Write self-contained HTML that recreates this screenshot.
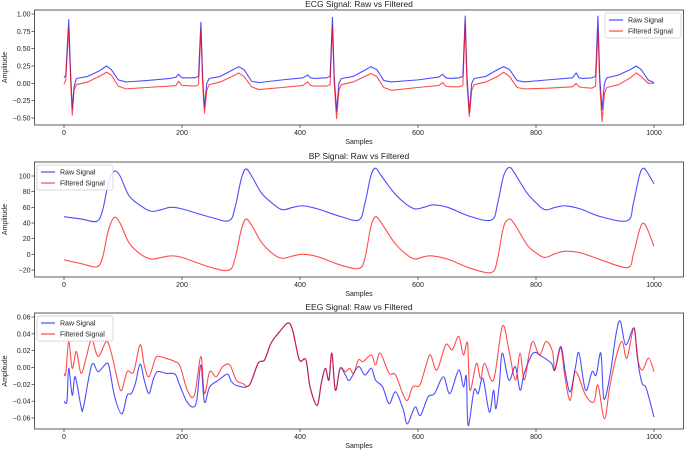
<!DOCTYPE html>
<html><head><meta charset="utf-8"><style>
body{margin:0;background:#fff;}
svg{display:block;font-family:"Liberation Sans",sans-serif;}
</style></head><body>
<svg id="fig" width="685" height="452" viewBox="0 0 685 452"></svg>
<script>
const xTicks=[0,200,400,600,800,1000];
const ecgX=[0,3,8,11,14,17,21,40,60,72,80,92,105,140,180,190,194,200,222,228,
232,235,238,242,246,265,285,296,305,318,330,370,405,413,418,425,445,451,
455,458,462,466,470,490,510,520,530,542,555,600,635,642,647,655,670,676,
680,683,687,691,695,715,735,745,755,768,780,820,862,868,873,880,895,901,
905,908,912,916,920,940,960,970,978,990,1000];
const ecgRaw=[0.08,0.12,0.92,0.2,-0.37,-0.05,0.07,0.1,0.18,0.25,0.2,0.05,0.02,0.04,0.07,0.09,0.13,0.08,0.08,0.1,
0.88,0.1,-0.35,0.0,0.07,0.1,0.19,0.24,0.2,0.03,0.01,0.05,0.08,0.12,0.08,0.07,0.08,0.1,
0.95,0.1,-0.4,0.0,0.07,0.1,0.19,0.24,0.2,0.04,0.02,0.05,0.09,0.13,0.08,0.07,0.08,0.1,
0.97,0.1,-0.42,0.0,0.07,0.1,0.2,0.24,0.2,0.04,0.02,0.05,0.08,0.15,0.08,0.07,0.08,0.1,
0.97,0.1,-0.38,0.0,0.08,0.12,0.2,0.25,0.2,0.05,0.01];
const ecgFilt=[-0.01,0.05,0.8,0.1,-0.46,-0.1,-0.02,0.02,0.1,0.16,0.12,-0.04,-0.08,-0.06,-0.04,-0.03,0.03,-0.03,-0.04,-0.02,
0.78,0.0,-0.43,-0.1,-0.02,0.02,0.1,0.15,0.1,-0.05,-0.09,-0.06,-0.03,0.02,-0.03,-0.04,-0.04,-0.02,
0.83,0.0,-0.51,-0.1,-0.02,0.02,0.1,0.14,0.1,-0.06,-0.1,-0.06,-0.03,0.01,-0.04,-0.05,-0.05,-0.03,
0.87,0.0,-0.48,-0.1,-0.02,0.02,0.1,0.16,0.1,-0.06,-0.08,-0.07,-0.05,0.0,-0.05,-0.06,-0.07,-0.04,
0.78,0.0,-0.55,-0.15,-0.06,-0.02,0.08,0.15,0.1,0.0,0.0];
const ecgYTicks=[1.0,0.75,0.5,0.25,0.0,-0.25,-0.5];
const bpX=[0,30,55,65,75,85,95,110,130,148,165,180,200,250,280,290,300,308,318,335,355,370,388,405,430,470,500,510,520,528,538,560,580,595,610,625,650,690,725,735,745,755,765,785,800,815,833,850,875,910,955,965,975,982,990,1000];
const bpRaw=[48,45,42,55,90,106,100,75,62,55,57,60,58,47,43,60,95,109,100,78,64,57,60,62,58,48,44,65,100,110,100,78,64,58,60,63,60,48,44,65,100,111,102,78,66,57,60,62,58,48,43,65,100,110,103,90];
const bpFilt=[-7,-12,-16,-5,30,47,40,15,0,-6,-4,-2,-4,-17,-20,-5,30,45,37,15,0,-5,-2,0,-3,-14,-18,-5,35,48,40,15,0,-6,-3,-2,-6,-18,-23,-5,35,45,37,12,2,-4,1,4,2,-7,-17,0,30,40,30,10];
const bpYTicks=[100,80,60,40,20,0,-20];
const eegRawX=[0,5,8,14,19,29,33,47,58,72,77,86,98,107,114,121,129,136,144,151,158,173,188,195,207,218,225,232,238,247,262,277,284,295,314,329,340,351,366,380,388,399,410,417,429,436,443,449,454,460,468,477,484,499,510,521,528,540,551,562,575,582,595,604,617,628,643,654,669,677,682,685,695,702,710,721,728,732,738,743,754,765,773,780,795,810,826,832,842,850,858,867,873,884,895,902,910,915,925,936,943,952,965,969,974,980,987,1000];
const eegRaw=[-0.04,-0.04,-0.001,-0.033,-0.011,-0.047,-0.047,0.003,-0.005,0.005,-0.001,-0.035,-0.055,-0.033,-0.031,-0.019,0.004,-0.015,-0.031,-0.015,-0.005,-0.007,-0.008,-0.019,-0.039,-0.047,-0.039,0.003,-0.041,-0.023,-0.015,-0.008,-0.017,-0.022,-0.021,0.005,0.009,0.029,0.043,0.053,0.043,0.009,0.009,-0.023,-0.045,-0.019,-0.001,-0.015,0.017,-0.027,-0.001,-0.009,-0.015,0.001,-0.009,-0.001,-0.015,-0.023,-0.043,-0.029,-0.05,-0.067,-0.047,-0.057,-0.035,-0.031,-0.011,-0.031,-0.003,-0.023,-0.011,-0.069,-0.027,-0.031,-0.013,-0.053,-0.027,-0.049,-0.019,0.017,-0.015,0.001,-0.027,-0.007,0.017,0.013,0.005,-0.003,0.025,-0.007,-0.029,0.001,0.017,-0.027,-0.005,-0.009,0.017,-0.037,-0.011,0.041,0.055,0.027,0.047,0.033,0.001,-0.019,-0.025,-0.059];
const eegFiltX=[0,3,8,14,21,29,38,47,58,72,81,92,98,107,118,129,136,144,155,162,177,188,197,209,221,232,238,247,258,269,281,292,303,314,329,340,351,366,380,388,399,410,417,429,436,443,449,454,460,468,477,484,491,499,507,521,528,536,551,562,580,591,603,613,621,632,647,658,669,677,684,688,699,706,713,728,743,754,765,773,780,788,795,806,817,828,832,842,849,858,867,884,898,905,916,925,936,946,954,966,972,980,991,1000];
const eegFilt=[-0.007,-0.007,0.031,-0.001,0.019,-0.007,0.013,0.033,0.013,0.031,0.015,-0.019,-0.027,-0.005,-0.005,0.027,0.003,-0.011,0.011,0.013,0.01,0.007,0.001,-0.027,-0.033,0.013,-0.031,-0.005,-0.011,0.001,0.003,-0.015,-0.019,-0.021,0.005,0.009,0.029,0.043,0.053,0.043,0.009,0.009,-0.023,-0.045,-0.019,-0.001,-0.015,0.017,-0.027,-0.001,-0.005,-0.001,-0.007,0.009,0.007,0.015,0.003,0.017,-0.007,-0.009,-0.039,-0.023,-0.021,0.001,0.015,-0.003,0.027,0.021,0.037,0.015,0.029,-0.027,0.005,-0.013,0.005,-0.015,0.049,0.021,-0.015,0.017,-0.015,0.015,0.031,0.015,0.031,0.019,-0.003,0.023,-0.011,-0.039,-0.005,-0.033,-0.041,-0.021,-0.061,-0.023,0.013,0.031,0.011,0.047,0.011,-0.003,0.011,-0.005];
const eegYTicks=[0.06,0.04,0.02,0.0,-0.02,-0.04,-0.06];

const NS="http://www.w3.org/2000/svg";
const svg=document.getElementById('fig');
function mk(tag,attrs,parent){const e=document.createElementNS(NS,tag);for(const k in attrs)e.setAttribute(k,attrs[k]);(parent||svg).appendChild(e);return e;}
const L=34.5,R=683.5;
function xs(v){return 64+(v-0)*(654-64)/1000;}
function smoothPath(pts){let d='M'+pts[0][0].toFixed(2)+','+pts[0][1].toFixed(2);
 for(let i=0;i<pts.length-1;i++){const p0=pts[i-1]||pts[i],p1=pts[i],p2=pts[i+1],p3=pts[i+2]||p2;
  const c1x=p1[0]+(p2[0]-p0[0])/6,c1y=p1[1]+(p2[1]-p0[1])/6,c2x=p2[0]-(p3[0]-p1[0])/6,c2y=p2[1]-(p3[1]-p1[1])/6;
  d+=' C'+c1x.toFixed(2)+','+c1y.toFixed(2)+' '+c2x.toFixed(2)+','+c2y.toFixed(2)+' '+p2[0].toFixed(2)+','+p2[1].toFixed(2);}
 return d;}
function panel(o){
 const g=mk('g',{});
 
 
 const ys=v=>o.y0+(v-o.v0)*(o.y1-o.y0)/(o.v1-o.v0);
 const t=mk('text',{x:(L+R)/2,y:o.top-3,'text-anchor':'middle','font-size':8.5,fill:'#222'},g);t.textContent=o.title;
 
 xTicks.forEach(v=>{const x=xs(v);mk('line',{x1:x,x2:x,y1:o.bot,y2:o.bot+3,stroke:'#333','stroke-width':0.7},g);
  const tt=mk('text',{x:x,y:o.bot+10,'text-anchor':'middle','font-size':7,fill:'#222'},g);tt.textContent=v;
  });
 o.yt.forEach(v=>{const y=ys(v);mk('line',{x1:L-3,x2:L,y1:y,y2:y,stroke:'#333','stroke-width':0.7},g);
  const tt=mk('text',{x:L-4,y:y+2.5,'text-anchor':'end','font-size':7,fill:'#222'},g);
  tt.textContent=o.fmt(v).replace('-','\u2212');
  });
 const xl=mk('text',{x:(L+R)/2,y:o.bot+19,'text-anchor':'middle','font-size':7,fill:'#222'},g);xl.textContent='Samples';
 
 const yl=mk('text',{x:0,y:0,'text-anchor':'middle','font-size':7,fill:'#222',transform:`translate(7,${(o.top+o.bot)/2}) rotate(-90)`},g);yl.textContent='Amplitude';
 
 const series=[[o.rx,o.raw,'#0000ff','raw-signal-line'],[o.fx,o.filt,'#ff0000','filtered-signal-line']];
 series.forEach(s=>{const pts=s[0].map((x,i)=>[xs(x),ys(s[1][i])]);
  const d=o.smooth?smoothPath(pts):'M'+pts.map(p=>p[0].toFixed(2)+','+p[1].toFixed(2)).join(' L');
  const p=mk('path',{d:d,fill:'none',stroke:s[2],'stroke-opacity':0.7,'stroke-width':1.1,'stroke-linejoin':'round'},g);
  });
 const box=mk('rect',{x:L,y:o.top,width:R-L,height:o.bot-o.top,fill:'none',stroke:'#333','stroke-width':0.8},g);
 
 const lg=mk('g',{},g);
 mk('rect',{x:o.lx,y:o.top+3,width:76,height:25,fill:'#fff','fill-opacity':0.85,stroke:'#ccc','stroke-width':0.7,rx:2},lg);
 [['Raw Signal','#0000ff'],['Filtered Signal','#ff0000']].forEach((e,i)=>{const y=o.top+10+i*11;
  mk('line',{x1:o.lx+4,x2:o.lx+18,y1:y,y2:y,stroke:e[1],'stroke-opacity':0.7,'stroke-width':1.2},lg);
  const tt=mk('text',{x:o.lx+23,y:y+2.5,'font-size':7,fill:'#222'},lg);tt.textContent=e[0];
  });
}
panel({name:'ecg',title:'ECG Signal: Raw vs Filtered',top:10,bot:125,v0:1.0,y0:14,v1:-0.5,y1:118,yt:ecgYTicks,fmt:v=>v.toFixed(2),
 rx:ecgX,raw:ecgRaw,fx:ecgX,filt:ecgFilt,smooth:false,lx:605});
panel({name:'bp',title:'BP Signal: Raw vs Filtered',top:162,bot:277,v0:100,y0:176,v1:-20,y1:270,yt:bpYTicks,fmt:v=>String(v),
 rx:bpX,raw:bpRaw,fx:bpX,filt:bpFilt,smooth:true,lx:37});
panel({name:'eeg',title:'EEG Signal: Raw vs Filtered',top:313,bot:429,v0:0.06,y0:317,v1:-0.06,y1:418,yt:eegYTicks,fmt:v=>v.toFixed(2),
 rx:eegRawX,raw:eegRaw,fx:eegFiltX,filt:eegFilt,smooth:true,lx:37});
</script>
</body></html>
